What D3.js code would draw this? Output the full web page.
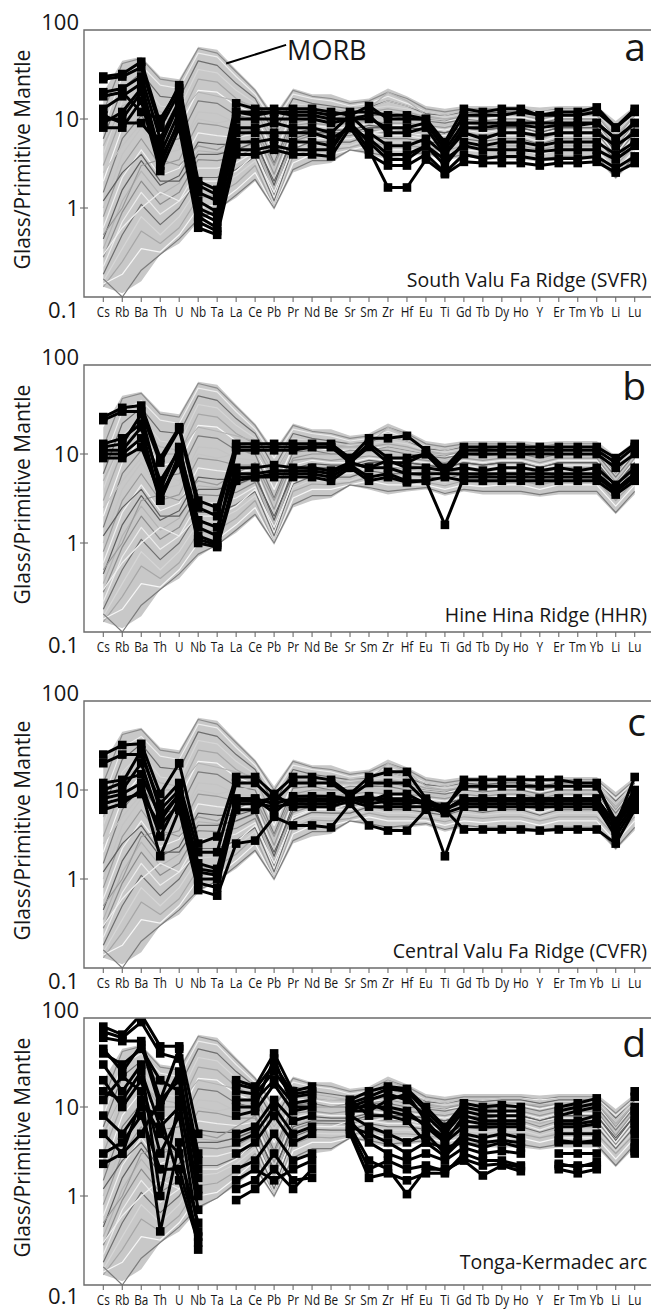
<!DOCTYPE html>
<meta charset="utf-8">
<html>
<style>
  body, html{ margin: 0; background: #fff; }
  text{ font-family: "Open Sans", sans-serif; fill: #161616; }
  .frame{ fill: none; stroke: #6b6b6b; stroke-width: 1.4; }
  .tick{ stroke: #6b6b6b; stroke-width: 1.1; }
  .band{ fill: #c8c8c8; }
  .morb{ fill: none; stroke-width: 1.2; stroke-linejoin: round; }
  .sample{ fill: none; stroke: #000; stroke-width: 3; stroke-linejoin: round; }
  .sq{ fill: #000; }
  .el{ font-size: 14px; }
  .ylab{ font-size: 22px; }
  .cap{ font-size: 19.5px; }
  .letter{ font-size: 39px; }
</style>
<body>
<svg></svg>
<script src="https://cdn.jsdelivr.net/npm/d3@7"></script>
<script>
var elements = ["Cs","Rb","Ba","Th","U","Nb","Ta","La","Ce","Pb","Pr","Nd","Be","Sr","Sm","Zr","Hf","Eu","Ti","Gd","Tb","Dy","Ho","Y","Er","Tm","Yb","Li","Lu"]
var yTicks = [100, 10, 1, 0.1]
var letters = ["a", "b", "c", "d"]
var captions = ["South Valu Fa Ridge (SVFR)", "Hine Hina Ridge (HHR)", "Central Valu Fa Ridge (CVFR)", "Tonga-Kermadec arc"]

// MORB envelope (same grey field in every panel)
var morbHi = [20, 45, 50, 30, 28, 65, 60, 36, 22, 11, 22, 19, 19, 16, 17, 22, 18, 14, 13, 14, 14, 14, 14, 13.5, 14, 14, 14, 9.5, 14]
var morbLo = [0.13, 0.11, 0.15, 0.3, 0.4, 0.7, 0.95, 1.3, 2, 0.95, 2.5, 3, 3.2, 4.4, 4, 3.5, 3.8, 4, 3.4, 3.8, 3.5, 3.5, 3.5, 3.3, 3.5, 3.5, 3.5, 2.1, 3.5]

var morb = [
  [12, 42, 48, 28, 26, 62, 55, 34, 21, 10, 21, 18, 17, 15, 16, 20, 17, 13, 12, 13, 13, 13, 13, 12, 13, 13, 13, 8.5, 13],
  [8, 30, 40, 24, 22, 55, 50, 30, 19, 9, 19, 17, 16, 14, 15, 18, 15, 12, 11, 12, 12, 12.5, 12.5, 12, 12.5, 12.5, 12.5, 8, 12.5],
  [6, 22, 33, 18, 17, 45, 40, 25, 17, 7, 17, 15, 14, 13, 13.5, 16, 14, 11.5, 11, 12, 11.5, 12, 12, 11, 12, 12, 12, 7.5, 12],
  [4, 16, 26, 14, 13, 36, 33, 21, 15, 6, 15, 14, 13, 12.5, 13, 14, 13, 11, 10.5, 11, 11, 11.5, 11.5, 10.5, 11.5, 11.5, 11.5, 7, 11.5],
  [3, 11, 20, 10, 10, 28, 26, 17, 13, 5, 13, 12.5, 12, 12, 12, 13, 12, 10.5, 10, 10.5, 10.5, 11, 11, 10, 11, 11, 11, 6.5, 11],
  [2, 8, 15, 7.5, 8, 21, 20, 14, 11.5, 4, 12, 12, 11, 11, 11.5, 12, 11, 10, 9.5, 10, 10, 10.5, 10.5, 9.5, 10.5, 10.5, 10.5, 6, 10.5],
  [1.5, 6, 11, 5.5, 6, 16, 15, 11, 10, 3.2, 10.5, 11, 10, 10, 11, 11, 10, 9.5, 9, 10, 9.5, 10, 10, 9, 10, 10, 10, 5.5, 10],
  [1, 4, 8, 4, 4.5, 12, 11.5, 9, 8.5, 2.8, 9.5, 10, 9.5, 9.5, 10.5, 10, 9.5, 9, 8.5, 9.5, 9, 9.5, 9.5, 8.5, 9.5, 9.5, 9.5, 5, 9.5],
  [0.8, 3, 6, 3, 3.5, 9, 8.5, 7.5, 7.5, 2.4, 8.5, 9, 8.5, 9, 9.5, 9, 9, 8.5, 8, 9, 8.5, 9, 9, 8, 9, 9, 9, 4.8, 9],
  [0.6, 2.2, 4.5, 2.3, 2.8, 7, 6.5, 6.2, 6.8, 2, 7.5, 8.5, 8, 8, 9, 8.5, 8.5, 8, 7.5, 8.5, 8, 8.5, 8.5, 7.5, 8.5, 8.5, 8.5, 4.5, 8.5],
  [0.45, 1.6, 3.4, 1.8, 2.3, 5.5, 5.2, 5.2, 6, 1.8, 6.8, 7.8, 7.5, 7.5, 8.5, 8, 8, 7.5, 7, 8, 7.5, 8, 8, 7, 8, 8, 8, 4.2, 8],
  [0.35, 1.2, 2.6, 1.4, 1.9, 4.4, 4.2, 4.4, 5.4, 1.6, 6.2, 7.2, 7, 7, 8, 7.5, 7.5, 7, 6.5, 7.5, 7, 7.5, 7.5, 6.5, 7.5, 7.5, 7.5, 4, 7.5],
  [0.28, 0.9, 2, 1.1, 1.5, 3.5, 3.4, 3.7, 4.8, 1.4, 5.6, 6.6, 6.5, 6.5, 7.5, 7, 7, 6.5, 6, 7, 6.5, 7, 7, 6, 7, 7, 7, 3.8, 7],
  [0.22, 0.7, 1.5, 0.85, 1.2, 2.8, 2.8, 3.2, 4.3, 1.3, 5.1, 6.1, 6, 6, 7, 6.5, 6.5, 6, 5.5, 6.5, 6, 6.5, 6.5, 5.5, 6.5, 6.5, 6.5, 3.6, 6.5],
  [0.18, 0.5, 1.1, 0.65, 1, 2.2, 2.2, 2.7, 3.8, 1.2, 4.6, 5.6, 5.5, 5.5, 6.5, 6, 6, 5.6, 5.2, 6, 5.6, 6, 6, 5.2, 6, 6, 6, 3.4, 6],
  [0.15, 0.35, 0.8, 0.5, 0.8, 1.7, 1.8, 2.3, 3.4, 1.1, 4.2, 5.1, 5, 5, 6, 5.5, 5.5, 5.2, 4.8, 5.5, 5.2, 5.5, 5.5, 4.8, 5.5, 5.5, 5.5, 3.2, 5.5],
  [0.13, 0.25, 0.55, 0.4, 0.6, 1.3, 1.4, 1.9, 3, 1, 3.8, 4.6, 4.5, 4.8, 5.5, 5, 5, 4.8, 4.4, 5, 4.8, 5, 5, 4.5, 5, 5, 5, 3, 5],
  [0.14, 0.18, 0.35, 0.32, 0.5, 1.0, 1.1, 1.6, 2.5, 1.0, 3.2, 4, 4, 4.5, 5, 4.5, 4.5, 4.5, 4, 4.5, 4.3, 4.5, 4.5, 4, 4.5, 4.5, 4.5, 2.6, 4.5],
  [0.16, 0.1, 0.2, 0.3, 0.45, 0.75, 0.95, 1.4, 2.1, 1.0, 2.7, 3.4, 3.4, 4.5, 4.2, 3.8, 4, 4.2, 3.6, 4, 3.8, 3.8, 3.8, 3.5, 3.8, 3.8, 3.8, 2.2, 3.8],
  [2.5, 5, 9, 6, 5, 10, 9, 10, 11, 5, 13, 13, 12, 13, 13, 16, 14, 12, 11, 12.5, 12, 12.5, 12.5, 11.5, 12.5, 12.5, 12.5, 7, 12.5],
  [0.5, 1, 3, 3.5, 3, 5, 4.5, 6, 8, 3, 9, 10, 10, 11, 11, 12, 11, 10, 9.5, 11, 10.5, 11, 11, 10, 11, 11, 11, 6, 11],
  [0.3, 0.6, 1, 1.5, 1.2, 2, 2, 2.6, 4, 1.5, 4.8, 6, 6, 7, 7, 7.5, 7, 6.5, 6.5, 7.5, 7, 7.5, 7.5, 7, 7.5, 7.5, 7.5, 4, 7.5],
  [1.2, 2.5, 4, 2, 2, 4, 4, 4.5, 5.5, 2, 6, 7, 7, 7, 8, 8, 8, 7.5, 7, 8, 7.5, 8, 8, 7, 8, 8, 8, 4.5, 8],
  [5, 14, 18, 12, 11, 20, 18, 16, 14, 6, 14, 14, 13, 12, 13, 20, 16, 11, 10, 11, 11, 11, 11, 10.5, 11, 11, 11, 6.5, 11]
]

// black sample lines, one list per panel
var svfr = [
  [30, 32, 44, 9, 24, 2.0, 1.6, 15, 13, 13, 13, 13, 12, 11, 14, 10, 10, 10, 5.5, 13, 12, 13, 13, 11, 12, 12, 13.5, 8, 13],
  [28, 30, 38, 8, 20, 1.5, 1.2, 12, 12, 12, 12, 12, 11, 12, 12, 11, 11, 10, 5, 11, 11, 11, 12, 11, 11, 11, 12, 8, 12],
  [20, 22, 30, 6, 16, 1.2, 0.9, 10, 10, 10, 10, 10, 9, 10, 10, 8, 8, 9, 4.5, 9, 9, 9, 9, 9, 9, 9, 9, 6, 9],
  [13, 18, 25, 4, 12, 0.9, 0.7, 8, 8, 9, 8, 8, 7, 11, 7, 5, 5, 6, 4, 7, 6, 7, 7, 6.5, 7, 7, 7, 5, 7],
  [10, 10, 20, 3, 10, 0.7, 0.55, 5.5, 5.5, 6, 5.5, 5.5, 5, 9, 5.5, 3.5, 3.5, 5, 3, 5.5, 5, 5.5, 5.5, 5, 5.5, 5.5, 5.5, 4, 5.5],
  [8, 8, 16, 2.6, 8, 0.6, 0.5, 4, 4, 4.5, 4, 4, 3.8, 8, 4, 3, 3, 4, 2.5, 4, 3.6, 3.8, 3.8, 3.5, 3.6, 3.6, 3.8, 2.8, 3.8],
  [9, 12, 22, 3.5, 9, 0.8, 0.6, 4.5, 4.5, 5, 4.5, 4.5, 4.5, 9, 4.5, 1.7, 1.7, 3.5, 2.4, 3.3, 3.2, 3.2, 3.2, 3.0, 3.2, 3.2, 3.3, 2.5, 3.2],
  [18, 20, 12, 10, 22, 1.8, 1.4, 12, 11, 12, 11, 11, 10, 10, 11, 7, 7, 8, 4, 8, 8, 8.5, 8.5, 8, 8.5, 8.5, 9, 6, 9],
  [11, 9, 9, 5, 15, 1.0, 0.8, 7, 7, 7, 7, 7, 6, 8, 6, 4, 4, 5, 3.5, 5, 4.5, 4.5, 4.5, 4.3, 4.5, 4.5, 4.5, 3.5, 5]
]
var hhr = [
  [26, 33, 35, 9, 20, 3, 2.5, 13, 13, 13, 13, 13, 13, 9, 15, 15, 16, 11, 7, 12, 12, 12, 12, 12, 12, 12, 12, 9, 13],
  [24, 30, 30, 8, 19, 2.5, 2.0, 12, 12, 12, 12, 12, 12, 8.5, 13, 9, 9, 10, 6.5, 11, 11, 11, 11, 11, 11, 11, 11, 8, 12],
  [12, 13, 28, 4, 12, 1.5, 1.2, 11, 11, 11, 11, 12, 12, 8, 12, 8, 8, 10, 6, 10, 10, 10, 10, 10, 10, 10, 10, 7, 10],
  [11, 11, 20, 3, 10, 1.2, 1.0, 6, 6, 6.5, 6.5, 6.5, 6, 8, 7, 7, 6, 6, 6, 6, 6, 6, 6, 6, 6, 6, 6, 4, 6],
  [10, 10, 15, 3, 9, 1.0, 0.9, 5, 5.5, 6, 6, 6, 5.5, 7.5, 5.5, 6, 5, 5, 1.6, 5.5, 5.5, 5.5, 5.5, 5.5, 5.5, 5.5, 5.5, 3.8, 5.5],
  [13, 15, 22, 5, 11, 1.8, 1.5, 7, 7, 7.5, 7, 7, 6.5, 8, 7, 8.5, 7, 7, 6.5, 7, 6.5, 7, 7, 6.5, 7, 6.5, 7, 4.5, 7],
  [9, 9, 12, 3.5, 8, 1.1, 0.95, 5.5, 5.5, 5.5, 5.5, 5.5, 5, 7, 5, 5.5, 4.8, 5, 5.5, 5, 5, 5, 5, 5, 5, 5, 5, 3.5, 5]
]
var cvfr = [
  [25, 32, 33, 9, 20, 2.5, 3, 14, 14, 9, 14, 14, 13, 9, 14, 16, 16, 8, 6, 13, 13, 13, 13, 13, 13, 12, 12, 4, 14],
  [10, 12, 28, 6, 10, 1.5, 1.3, 8, 8, 7, 8, 8, 8, 8, 8, 8, 8, 7, 6, 7.5, 7.5, 7.5, 7.5, 7.5, 7.5, 7.5, 7.5, 4, 8],
  [8, 9, 12, 3, 8, 1.0, 1.0, 7, 7, 6.5, 7, 7, 7, 8, 7, 7.5, 7.5, 7, 1.8, 7, 7, 7, 7, 7, 7, 7, 7, 3.5, 7],
  [6, 7, 10, 1.8, 6, 0.75, 0.65, 2.5, 2.7, 5, 4, 4, 3.8, 7, 4, 3.5, 3.5, 6, 6, 3.6, 3.6, 3.6, 3.6, 3.5, 3.6, 3.6, 3.6, 2.5, 6],
  [12, 13, 15, 5, 9, 1.2, 1.1, 7.5, 7.5, 8, 7.5, 7.5, 7.5, 8, 7.5, 9, 9, 7, 6, 8, 8, 8, 8, 8, 8, 8, 8, 4, 7.5],
  [7, 8, 9, 4, 7, 0.9, 0.8, 6, 6, 9, 6.5, 6.5, 6.5, 7.5, 6.5, 6.5, 6.5, 6.5, 5.5, 6.5, 6.5, 6.5, 6.5, 6.5, 6.5, 6.5, 6.5, 3, 6.5],
  [20, 25, 25, 7, 12, 2, 2, 12, 12, 7.5, 12, 12, 12, 8.5, 12, 12, 12, 7.5, 6.5, 11, 11, 11, 11, 11, 11, 11, 11, 4.5, 10],
  [9, 10, 20, 4.5, 9, 1.3, 1.2, 8, 8, 5.5, 8.5, 8.5, 8.5, 8, 8.5, 7, 7, 7.5, 6, 8, 8, 8, 8, 8, 8, 8, 8, 4, 9]
]
// arc glasses: Ta, Be, Y and Li not analysed
var tonga = [
  [80, 65, 110, 48, 48, 5, null, 20, 17, 40, 15, 17, null, 12, 15, 17, 16, 10, 6, 11, 10, 10.5, 10, null, 10, 11, 12.5, null, 15],
  [60, 55, 55, 12, 45, 2, null, 15, 14, 25, 13, 14, null, 10, 12, 14, 12, 8, 5, 9, 8, 8, 8, null, 8, 9, 10, null, 10],
  [45, 25, 50, 10, 25, 1.6, null, 10, 10, 35, 10, 10, null, 9, 9, 12, 14, 7, 4, 8, 7, 7, 7, null, 7, 7, 8, null, 9],
  [30, 15, 30, 1, 12, 0.7, null, 5, 6, 12, 7, 8, null, 8, 6, 5, 4, 5, 3, 5, 4.5, 5, 4.5, null, 5, 5, 5, null, 6.5],
  [20, 10, 20, 3, 8, 0.4, null, 3, 4, 8, 4, 5, null, 7, 4, 3, 2.5, 3, 2.5, 3.5, 3, 3.2, 3, null, 3, 3, 3, null, 4],
  [12, 22, 15, 0.4, 4, 0.25, null, 2, 2.5, 5, 2.5, 3, null, 6, 2.5, 2, 1.05, 2, 2, 2.5, 1.7, 2.2, 1.9, null, 2, 1.8, 2, null, 3],
  [8, 5, 10, 8, 1.5, 0.3, null, 1.2, 1.5, 3, 1.5, 1.6, null, 5, 1.6, 1.8, 1.5, 1.8, 1.8, 3, 2.5, 2.5, 2.2, null, 2.2, 2.2, 2.2, null, 3.5],
  [5, 3, 5, 12, 20, 1, null, 0.9, 1.2, 2, 1.2, 2, null, 12, 8, 8, 7, 4, 3.5, 4, 3.5, 4, 3.5, null, 4, 4, 4, null, 5],
  [2.3, 3, 12, 5, 3, 0.5, null, 8, 9, 18, 9, 10, null, 10, 10, 10, 9, 6, 4, 6, 6, 6, 6, null, 6, 6, 6.5, null, 7],
  [70, 60, 90, 40, 35, 3, null, 18, 16, 30, 14, 15, null, 11, 13, 16, 15, 9, 5.5, 10, 9, 9, 9, null, 9, 10, 11, null, 13],
  [15, 12, 25, 6, 10, 1.2, null, 4, 5, 10, 5, 6, null, 6, 5, 4, 3, 4, 2.8, 4.5, 4, 4.2, 4, null, 4.2, 4, 4.2, null, 5.5],
  [3, 4, 8, 2, 2, 0.35, null, 1.5, 2, 1.5, 2, 2.5, null, 5.5, 2, 2.5, 2, 2.2, 1.9, 2.6, 2.2, 2.3, 2.1, null, 2.3, 2.1, 2.4, null, 3.2],
  [40, 30, 45, 20, 15, 2.5, null, 12, 12, 20, 11, 12, null, 9, 11, 9, 8, 6.5, 4.5, 7, 6.5, 6.5, 6.5, null, 6.5, 6.5, 7, null, 8]
]
var samples = [svfr, hhr, cvfr, tonga]

var W = 651, H = 1309
  , left = 84
  , tops = [30, 365, 701, 1018]
  , ph = 267
  , greys = ['#8c8c8c', '#ececec', '#6e6e6e', '#d6d6d6', '#a6a6a6', '#f6f6f6', '#7c7c7c', '#c4c4c4', '#9a9a9a', '#efefef', '#5f5f5f', '#b4b4b4']
  , translate = function(x, y){ return 'translate(' + x + ',' + y + ')' }

var svg = d3.select('svg').attr('width', W).attr('height', H)
var x = d3.scalePoint().domain(elements).range([103.3, 634.7])
var y = d3.scaleLog().domain([0.1, 100]).range([ph, 0])

var line = d3.line()
  .defined(function(d){ return d != null })
  .x(function(d, i){ return x(elements[i]) })
  .y(function(d){ return y(d) })

var band = d3.area()
  .x(function(d, i){ return x(elements[i]) })
  .y0(function(d, i){ return y(morbLo[i]) })
  .y1(function(d, i){ return y(morbHi[i]) })

letters.forEach(function(letter, p){
  var g = svg.append('g').attr('transform', translate(0, tops[p]))

  g.append('clipPath').attr('id', 'clip' + p)
    .append('rect').attr('x', left).attr('y', 0).attr('width', W - left).attr('height', ph)

  var plot = g.append('g').attr('clip-path', 'url(#clip' + p + ')')

  plot.append('path').attr('class', 'band').attr('d', band(morbHi))
  plot.selectAll('.morb').data(morb).enter().append('path')
    .attr('class', 'morb')
    .attr('stroke', function(d, i){ return greys[i % greys.length] })
    .attr('d', line)

  var s = plot.selectAll('.s').data(samples[p]).enter().append('g')
  s.append('path').attr('class', 'sample').attr('d', line)
  s.selectAll('rect')
    .data(function(d){ return d.map(function(v, i){ return {v: v, e: elements[i]} }).filter(function(o){ return o.v != null }) })
    .enter().append('rect').attr('class', 'sq')
    .attr('x', function(o){ return x(o.e) - 4.3 })
    .attr('y', function(o){ return y(o.v) - 4.3 })
    .attr('width', 8.6).attr('height', 8.6)

  // frame (right side runs off the page)
  g.append('path').attr('class', 'frame')
    .attr('d', 'M' + (W + 2) + ',0H' + left + 'V' + ph + 'H' + (W + 2))

  // x ticks + element labels
  g.selectAll('.xt').data(elements).enter().append('line')
    .attr('class', 'tick')
    .attr('x1', function(d){ return x(d) }).attr('x2', function(d){ return x(d) })
    .attr('y1', ph).attr('y2', ph + 5)
  g.selectAll('.el').data(elements).enter().append('text')
    .attr('class', 'el')
    .attr('text-anchor', 'middle')
    .attr('transform', function(d){ return translate(x(d), ph + 20) + ' scale(0.84,1)' })
    .text(function(d){ return d })

  // y ticks + labels
  g.selectAll('.yt').data([10, 1]).enter().append('line')
    .attr('class', 'tick')
    .attr('x1', left - 4).attr('x2', left + 4)
    .attr('y1', function(d){ return y(d) }).attr('y2', function(d){ return y(d) })
  g.selectAll('.ylab').data(yTicks).enter().append('text')
    .attr('class', 'ylab')
    .attr('text-anchor', 'end')
    .attr('x', left - 5)
    .attr('y', function(d){ return d == 100 ? y(d) : d == 0.1 ? y(d) + (p == 3 ? 19 : 21) : y(d) + 8 })
    .text(function(d){ return d })

  g.append('text')
    .attr('transform', translate(30, ph / 2 - 4) + ' rotate(-90)')
    .attr('text-anchor', 'middle')
    .style('font-size', '21px')
    .text('Glass/Primitive Mantle')

  g.append('text').attr('class', 'letter')
    .attr('text-anchor', 'end')
    .attr('x', 646).attr('y', p == 0 ? 31 : p == 3 ? 39 : 35)
    .text(letter)

  g.append('text').attr('class', 'cap')
    .attr('text-anchor', 'end')
    .attr('x', 647).attr('y', p == 3 ? ph - 16 : ph - 10)
    .text(captions[p])

  if (p == 0){
    g.append('line').attr('class', 'sample').style('stroke-width', 2)
      .attr('x1', x('Ta') + 9).attr('y1', y(42))
      .attr('x2', x('Pb') + 12).attr('y2', y(68))
    g.append('text')
      .attr('x', x('Pb') + 13).attr('y', 30)
      .style('font-size', '27px')
      .text('MORB')
  }
})
</script>
</body>
</html>
